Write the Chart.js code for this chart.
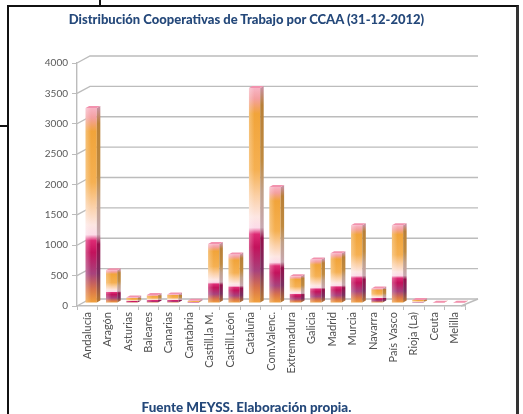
<!DOCTYPE html>
<html>
<head>
<meta charset="utf-8">
<script src="https://cdn.jsdelivr.net/npm/chart.js@4/dist/chart.umd.min.js"></script>
<style>
  html, body { margin: 0; padding: 0; background: #fff; }
  #wrap { position: relative; width: 523px; height: 414px; overflow: hidden; }
  #frame { position: absolute; left: 7px; top: 5px; width: 507px; height: 430px;
           border-left: 2px solid #111; border-top: 2px solid #111; border-right: 3px solid #333; }
  .stub { position: absolute; background: #111; }
  #chart { position: absolute; left: 0; top: 0; }
  .caption { position: absolute; left: 0; width: 493px; text-align: center;
             font-family: Lato, sans-serif; font-weight: 900; color: #24487a; }
</style>
</head>
<body>
<div id="wrap">
  <div class="stub" style="left:99px;top:0;width:2px;height:6px"></div>
  <div class="stub" style="left:0;top:125px;width:8px;height:2px"></div>
  <div id="frame"></div>
  <canvas id="chart" width="523" height="414"></canvas>
  <div class="caption" style="top:11px;font-size:13px">Distribución Cooperativas de Trabajo por CCAA (31-12-2012)</div>
  <div class="caption" style="top:399px;font-size:13.4px">Fuente MEYSS. Elaboración propia.</div>
</div>
<script>
// Cooperativas de trabajo por comunidad autónoma
const categories = ['Andalucía', 'Aragón', 'Asturias', 'Baleares', 'Canarias', 'Cantabria',
  'Castill.la M.', 'Castill.León', 'Cataluña', 'Com.Valenc.', 'Extremadura', 'Galicia',
  'Madrid', 'Murcia', 'Navarra', 'País Vasco', 'Rioja (La)', 'Ceuta', 'Melilla'];
const cooperativas = [3210, 540, 90, 130, 140, 35, 970, 800, 3540, 1910, 440, 715, 820, 1280, 240, 1280, 50, 5, 5];
const yTicks = [0, 500, 1000, 1500, 2000, 2500, 3000, 3500, 4000];

// depth of the fake 3D box and of each bar
const DEPTH_X = 13, DEPTH_Y = 7;
const BAR_DX = 4, BAR_DY = -3;
const FACE_X = 3.5, FACE_Y = 2;

const frontStops = [
  [0.00, '#f2a23c'], [0.07, '#d9744a'], [0.15, '#a8427c'], [0.26, '#c3125c'],
  [0.32, '#dd2a74'], [0.35, '#fcdbe8'], [0.40, '#fde6e2'], [0.50, '#fbcfa4'],
  [0.62, '#f5b052'], [0.88, '#f1a43a'], [0.95, '#f4a0a0'], [1.00, '#f7b4c4']
];
const sideStops = [
  [0.00, '#b87a30'], [0.15, '#7a3060'], [0.30, '#94104a'], [0.35, '#c8a8b0'],
  [0.52, '#c0a088'], [0.66, '#bf8a40'], [0.92, '#b88038'], [1.00, '#c890a0']
];

function barGradient(ctx, yBase, yTop, stops) {
  const g = ctx.createLinearGradient(0, yBase, 0, yTop);
  stops.forEach(([t, c]) => g.addColorStop(t, c));
  return g;
}

const box3d = {
  id: 'box3d',
  beforeDatasetsDraw(chart) {
    const { ctx, chartArea: a, scales: { y } } = chart;
    ctx.save();
    ctx.strokeStyle = '#bcbcbc';
    ctx.lineWidth = 1.4;
    yTicks.forEach(v => {
      const py = y.getPixelForValue(v);
      ctx.beginPath();
      ctx.moveTo(a.left, py);
      ctx.lineTo(a.left + DEPTH_X, py - DEPTH_Y);
      ctx.lineTo(a.right + DEPTH_X, py - DEPTH_Y);
      ctx.stroke();
    });
    ctx.beginPath();
    ctx.moveTo(a.right - 4, a.bottom);
    ctx.lineTo(a.right + DEPTH_X, a.bottom - DEPTH_Y);
    ctx.stroke();
    ctx.restore();
    ctx.save();
    ctx.translate(BAR_DX, BAR_DY);
  },
  afterDatasetsDraw(chart) {
    const { ctx } = chart;
    const meta = chart.getDatasetMeta(0);
    meta.data.forEach(bar => {
      const { x, y, base, width } = bar.getProps(['x', 'y', 'base', 'width'], true);
      const r = x + width / 2, l = x - width / 2;
      // side face
      ctx.beginPath();
      ctx.moveTo(r, y);
      ctx.lineTo(r + FACE_X, y - FACE_Y);
      ctx.lineTo(r + FACE_X, base - FACE_Y);
      ctx.lineTo(r, base);
      ctx.closePath();
      ctx.fillStyle = barGradient(ctx, base, y, sideStops);
      ctx.fill();
      // top face
      ctx.beginPath();
      ctx.moveTo(l, y);
      ctx.lineTo(l + FACE_X, y - FACE_Y);
      ctx.lineTo(r + FACE_X, y - FACE_Y);
      ctx.lineTo(r, y);
      ctx.closePath();
      ctx.fillStyle = '#f292ae';
      ctx.fill();
      // light edge on the left of the front face
      const hl = ctx.createLinearGradient(l, 0, x, 0);
      hl.addColorStop(0, 'rgba(255,255,255,0.3)');
      hl.addColorStop(1, 'rgba(255,255,255,0)');
      ctx.fillStyle = hl;
      ctx.fillRect(l, y, width / 2, base - y);
    });
    ctx.restore();
  }
};

const ctx = document.getElementById('chart').getContext('2d');

const chart = new Chart(ctx, {
  type: 'bar',
  data: {
    labels: categories,
    datasets: [{
      data: cooperativas,
      backgroundColor(c) {
        const ch = c.chart;
        if (!ch.chartArea || c.type !== 'data') return '#f2a23c';
        const ys = ch.scales.y;
        return barGradient(ch.ctx, ys.getPixelForValue(0), ys.getPixelForValue(c.raw), frontStops);
      },
      borderWidth: 0,
      barPercentage: 0.55,
      categoryPercentage: 1,
    }],
  },
  plugins: [box3d],
  options: {
    responsive: false,
    animation: false,
    layout: { padding: { top: 63, right: 58, bottom: 0, left: 0 } },
    plugins: {
      legend: { display: false },
      tooltip: { enabled: false },
    },
    scales: {
      x: {
        afterFit(scale) { scale.height = 108; },
        grid: { drawOnChartArea: false, tickLength: 4, color: '#bcbcbc', offset: true },
        border: { color: '#bcbcbc', width: 1.4 },
        ticks: {
          minRotation: 90, maxRotation: 90, autoSkip: false, padding: 2,
          color: '#505050', font: { family: 'Lato', size: 11 },
        },
      },
      y: {
        min: 0, max: 4000,
        afterFit(scale) { scale.width = 77; },
        afterBuildTicks(scale) { scale.ticks = yTicks.map(v => ({ value: v })); },
        grid: { drawOnChartArea: false, tickLength: 5, color: '#bcbcbc' },
        border: { color: '#bcbcbc', width: 1.4 },
        ticks: {
          padding: 4, color: '#595959', font: { family: 'Lato', size: 10 },
          callback: v => String(v),
        },
      },
    },
  },
});
</script>
</body>
</html>
